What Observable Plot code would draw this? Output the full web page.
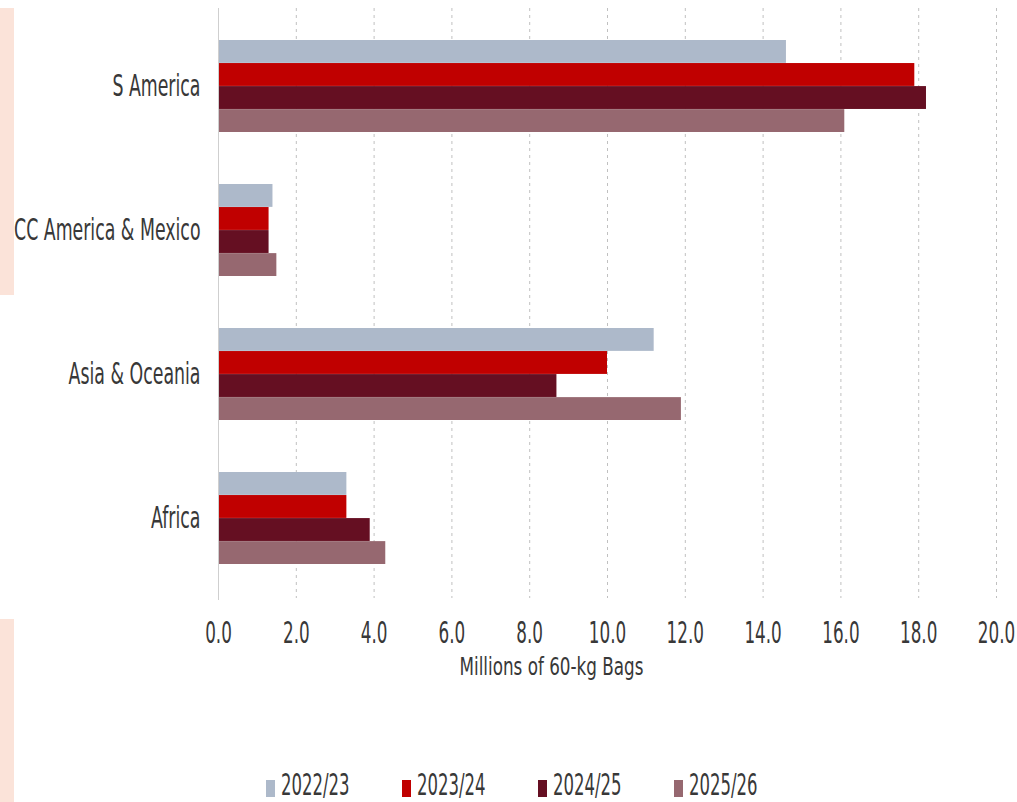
<!DOCTYPE html>
<html><head><meta charset="utf-8">
<script src="https://cdn.jsdelivr.net/npm/d3@7"></script>
<script src="https://cdn.jsdelivr.net/npm/@observablehq/plot@0.6"></script>
<style>
body{margin:0;background:#fff;width:1017px;height:802px;position:relative;overflow:hidden;font-family:"DejaVu Sans",sans-serif;color:#383838;}
#chart{position:absolute;left:0;top:0;}
.pink{position:absolute;left:0;width:14px;background:#fbe3d9;}
#legend{position:absolute;top:770px;left:266px;display:flex;}
.item{width:136px;height:30px;position:relative;}
.sw{position:absolute;left:0;top:10px;width:9px;height:17px;}
.lt{position:absolute;left:15px;top:0;font-size:30px;line-height:30px;white-space:nowrap;transform:scaleX(0.55);transform-origin:left center;}
</style></head>
<body>
<div class="pink" style="top:8px;height:287px"></div>
<div class="pink" style="top:619px;height:183px"></div>
<div id="chart"></div>
<div id="legend"></div>
<script>
const regions = ["S America", "CC America & Mexico", "Asia & Oceania", "Africa"];
const years = ["2022/23", "2023/24", "2024/25", "2025/26"];
const v2022 = [14.6, 1.4, 11.2, 3.3];
const v2023 = [17.9, 1.3, 10.0, 3.3];
const v2024 = [18.2, 1.3, 8.7, 3.9];
const v2025 = [16.1, 1.5, 11.9, 4.3];
const xTicks = [0, 2, 4, 6, 8, 10, 12, 14, 16, 18, 20];
const colors = ["#adb9ca", "#c00000", "#650f22", "#966870"];
const xTitle = "Millions of 60-kg Bags";

const series = [v2022, v2023, v2024, v2025];
const FONT = '"DejaVu Sans",sans-serif';

const W = 1017, H = 700, mT = 14, mB = 110;
const padIn = 0.36, padOut = 0.18;
const step = (H - mT - mB) / (regions.length - padIn + 2 * padOut);
const bw = step * (1 - padIn);
const barH = bw / years.length;

const barMarks = series.map((vals, j) =>
  Plot.barX(regions.map((r, i) => ({region: r, value: vals[i]})), {
    x: "value", y: "region", fill: colors[j],
    insetTop: j * barH, insetBottom: (years.length - 1 - j) * barH
  })
);

const chart = Plot.plot({
  width: W, height: H,
  marginLeft: 218, marginRight: 21, marginTop: mT, marginBottom: mB,
  style: {fontFamily: FONT, fontSize: "30px", color: "#383838", background: "transparent"},
  x: {domain: [0, 20]},
  y: {domain: regions, paddingInner: padIn, paddingOuter: padOut},
  marks: [
    Plot.gridX(xTicks.slice(1), {stroke: "#c0c0c0", strokeOpacity: 1, strokeDasharray: "3,4", insetTop: -6, insetBottom: -8}),
    ...barMarks,
    Plot.ruleX([0], {stroke: "#cfcfcf", insetTop: -6, insetBottom: -10}),
    Plot.axisX(xTicks, {tickSize: 0, tickPadding: 31, tickFormat: d => d.toFixed(1), fontSize: 30, label: null, fill: "#383838"}),
    Plot.axisY({tickSize: 0, tickPadding: 18, label: null, fontSize: 31, fill: "#383838"}),
    Plot.text([xTitle], {text: d => d, frameAnchor: "bottom", dy: 84, dx: -56, fontSize: 24, fill: "#383838"})
  ]
});
document.getElementById("chart").appendChild(chart);

// condensed look: squeeze each text horizontally around its own anchor point
chart.querySelectorAll("text").forEach(t => {
  const s = t.textContent === xTitle ? 0.7 : 0.56;
  const x = +(t.getAttribute("x") || 0);
  const tr = t.getAttribute("transform") || "";
  t.setAttribute("transform", `${tr} translate(${x},0) scale(${s},1) translate(${-x},0)`.trim());
});

const leg = document.getElementById("legend");
years.forEach((y, i) => {
  const it = document.createElement("div"); it.className = "item";
  const sw = document.createElement("span"); sw.className = "sw"; sw.style.background = colors[i];
  const t = document.createElement("span"); t.className = "lt"; t.textContent = y;
  it.appendChild(sw); it.appendChild(t); leg.appendChild(it);
});
</script>
</body></html>
